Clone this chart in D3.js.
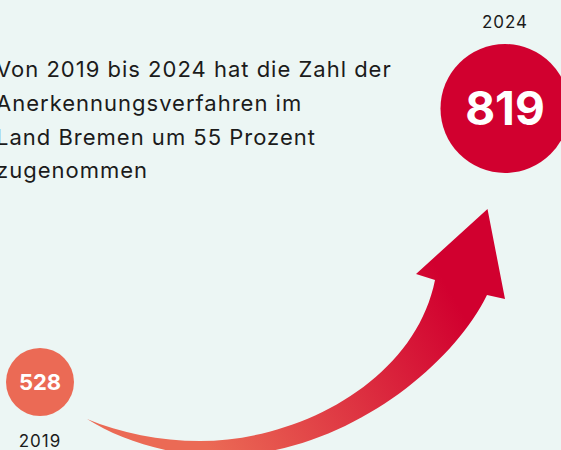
<!DOCTYPE html>
<html>
<head>
<meta charset="utf-8">
<script src="https://cdn.jsdelivr.net/npm/d3@7"></script>
<style>
  html, body { margin: 0; padding: 0; background: #ecf6f4; overflow: hidden; }
  svg { display: block; }
  .label { font-family: Inter, "Open Sans", sans-serif; fill: #1b1b1b; letter-spacing: 1px; }
  .value { font-family: Inter, "Open Sans", sans-serif; font-weight: 700; fill: #fff; }
</style>
</head>
<body>
<svg id="chart"></svg>
<script>
const years = [2019, 2024];
const values = [528, 819];
const colors = ["#eb6a55", "#d1002f"];
const intro = [
    "Von 2019 bis 2024 hat die Zahl der",
    "Anerkennungsverfahren im",
    "Land Bremen um 55 Prozent",
    "zugenommen"
];

const width = 561, height = 450;

var svg = d3.select("#chart")
    .attr("width", width)
    .attr("height", height);

var x = d3.scaleLinear().domain([2019, 2024]).range([40, 505]);
var y = d3.scaleLinear().domain([528, 819]).range([382, 108.5]);
var r = d3.scaleLinear().domain([528, 819]).range([34, 64.5]);
var fs = d3.scaleLinear().domain([528, 819]).range([22, 46]);

var points = years.map((yr, i) => ({ year: yr, value: values[i], color: colors[i] }));

// intro text
var introText = svg.append("text")
    .attr("class", "label")
    .attr("x", -4)
    .attr("y", 77)
    .style("font-size", "22px");

introText.selectAll("tspan")
    .data(intro)
    .enter().append("tspan")
    .attr("x", -4)
    .attr("dy", (d, i) => i ? 33.8 : 0)
    .text((d) => d);

// arrow, anchored on the two data points
var a = { x: x(2019), y: y(528) };
var b = { x: x(2024), y: y(819) };

var grad = svg.append("defs").append("linearGradient")
    .attr("id", "swoosh")
    .attr("gradientUnits", "userSpaceOnUse")
    .attr("x1", a.x + 170).attr("y1", a.y + 70)
    .attr("x2", b.x - 45).attr("y2", b.y + 200);
grad.append("stop").attr("offset", 0).attr("stop-color", colors[0]);
grad.append("stop").attr("offset", 1).attr("stop-color", colors[1]);

var p = d3.path();
var ox = a.x, oy = a.y;
p.moveTo(ox + 47, oy + 37);
p.bezierCurveTo(ox + 80, oy + 51, ox + 120, oy + 59, ox + 160, oy + 59);
p.bezierCurveTo(ox + 260, oy + 59, ox + 375, oy - 2, ox + 395, oy - 102);
p.lineTo(ox + 376, oy - 108);
p.lineTo(b.x - 17.5, b.y + 100.5);   // arrow tip
p.lineTo(ox + 465, oy - 83);
p.lineTo(ox + 447, oy - 87);
p.bezierCurveTo(ox + 410, oy - 12, ox + 300, oy + 74, ox + 180, oy + 74);
p.bezierCurveTo(ox + 130, oy + 74, ox + 80, oy + 58, ox + 47, oy + 37);
p.closePath();

svg.append("path")
    .attr("d", p.toString())
    .attr("fill", "url(#swoosh)");

// circles
var g = svg.selectAll(".dot")
    .data(points)
    .enter().append("g")
    .attr("class", "dot")
    .attr("transform", (d) => "translate(" + x(d.year) + "," + y(d.value) + ")");

g.append("circle")
    .attr("r", (d) => r(d.value))
    .attr("fill", (d) => d.color);

g.append("text")
    .attr("class", "value")
    .attr("text-anchor", "middle")
    .attr("dy", "0.36em")
    .style("font-size", (d) => fs(d.value) + "px")
    .text((d) => d.value);

g.append("text")
    .attr("class", "label")
    .attr("text-anchor", "middle")
    .style("font-size", "17px")
    .attr("y", (d) => d.year === 2019 ? r(d.value) + 31 : -r(d.value) - 16)
    .text((d) => d.year);
</script>
</body>
</html>
